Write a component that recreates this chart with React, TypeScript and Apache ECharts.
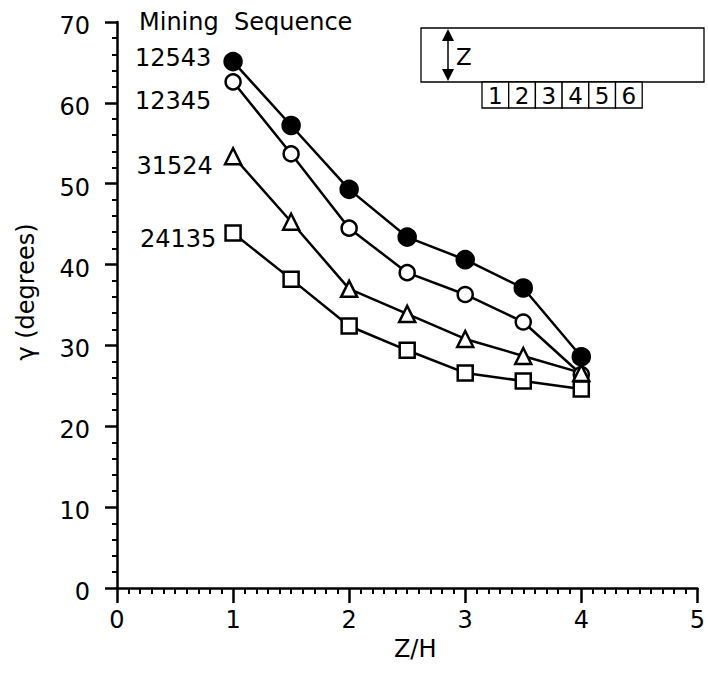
import React, { useEffect, useRef } from "react";
import * as echarts from "echarts";

const zh = [1, 1.5, 2, 2.5, 3, 3.5, 4];
const seq12543 = [65.1, 57.2, 49.3, 43.4, 40.6, 37.1, 28.6];
const seq12345 = [62.6, 53.7, 44.5, 39.0, 36.3, 32.9, 26.4];
const seq31524 = [53.4, 45.3, 37.0, 33.9, 30.8, 28.7, 26.6];
const seq24135 = [43.9, 38.2, 32.4, 29.4, 26.6, 25.6, 24.6];
const insetCells = ["1", "2", "3", "4", "5", "6"];

const FONT = "'DejaVu Sans', 'Liberation Sans', Arial, sans-serif";

export default function App() {
  const ref = useRef<HTMLDivElement>(null);
  useEffect(() => {
    document.body.style.margin = "0";
    const chart = echarts.init(ref.current!, null, { renderer: "svg" });
    const pairs = (ys: number[]) => zh.map((x, i) => [x, ys[i]]);
    const mk = (
      name: string,
      ys: number[],
      symbol: string,
      size: number,
      fill: string,
      off: [number, number],
      dist: number
    ) => ({
      type: "line",
      name,
      data: pairs(ys).map((p, i) =>
        i === 0
          ? {
              value: p,
              label: {
                show: true,
                position: "left",
                distance: dist,
                offset: off,
                formatter: name,
                color: "#000",
                fontSize: 24,
                fontFamily: FONT,
              },
            }
          : p
      ),
      symbol,
      symbolSize: size,
      showSymbol: true,
      lineStyle: { color: "#000", width: 2.5 },
      itemStyle: { color: fill, borderColor: "#000", borderWidth: 2.5 },
      z: 3,
    });

    const cellW = 26.7;
    const cells: any[] = [];
    insetCells.forEach((t, i) => {
      cells.push({
        type: "rect",
        shape: { x: 482 + i * cellW, y: 82, width: cellW, height: 26 },
        style: { fill: "#fff", stroke: "#000", lineWidth: 1.3 },
      });
      cells.push({
        type: "text",
        x: 482 + i * cellW + cellW / 2,
        y: 96,
        style: {
          text: t,
          fontSize: 23,
          fontFamily: FONT,
          fill: "#000",
          align: "center",
          verticalAlign: "middle",
        },
      });
    });

    chart.setOption({
      animation: false,
      grid: { left: 117, right: 4, top: 22, bottom: 85 },
      xAxis: {
        type: "value",
        min: 0,
        max: 5,
        interval: 1,
        name: "Z/H",
        nameLocation: "middle",
        nameGap: 46,
        nameTextStyle: { fontSize: 24, fontFamily: FONT, color: "#000", padding: [0, 0, 0, 16] },
        axisLine: { lineStyle: { color: "#000", width: 2.5 } },
        axisTick: { show: true, length: 15, lineStyle: { color: "#000", width: 2.5 } },
        minorTick: { show: true, splitNumber: 10, length: 6, lineStyle: { color: "#000", width: 2 } },
        axisLabel: { fontSize: 24, fontFamily: FONT, color: "#000", margin: 20 },
        splitLine: { show: false },
        minorSplitLine: { show: false },
      },
      yAxis: {
        type: "value",
        min: 0,
        max: 70,
        interval: 10,
        axisLine: { show: true, lineStyle: { color: "#000", width: 2.5 } },
        axisTick: { show: true, length: 12, lineStyle: { color: "#000", width: 2.5 } },
        minorTick: { show: true, splitNumber: 5, length: 5, lineStyle: { color: "#000", width: 2 } },
        axisLabel: {
          fontSize: 24,
          fontFamily: FONT,
          color: "#000",
          margin: 27,
          formatter: "{v|{value}}",
          rich: {
            v: { fontSize: 24, fontFamily: FONT, color: "#000", padding: [8, 0, 0, 0] },
          },
        },
        splitLine: { show: false },
        minorSplitLine: { show: false },
      },
      series: [
        mk("12345", seq12345, "circle", 15, "#fff", [0, 19], 13),
        mk("24135", seq24135, "rect", 15, "#fff", [0, 6], 8),
        mk("31524", seq31524, "triangle", 16, "#fff", [0, 10], 11),
        mk("12543", seq12543, "circle", 17, "#000", [0, -4], 12),
      ],
      graphic: [
        {
          type: "text",
          x: 26,
          y: 292,
          rotation: Math.PI / 2,
          style: {
            text: "γ (degrees)",
            fontSize: 24,
            fontFamily: FONT,
            fill: "#000",
            align: "center",
            verticalAlign: "middle",
          },
        },
        {
          type: "text",
          x: 139,
          y: 22,
          style: {
            text: "Mining  Sequence",
            fontSize: 24,
            fontFamily: FONT,
            fill: "#000",
            align: "left",
            verticalAlign: "middle",
          },
        },
        {
          type: "rect",
          shape: { x: 421, y: 28, width: 283, height: 54 },
          style: { fill: "#fff", stroke: "#000", lineWidth: 1.3 },
        },
        {
          type: "line",
          shape: { x1: 448, y1: 38, x2: 448, y2: 72 },
          style: { stroke: "#000", lineWidth: 1.5 },
        },
        {
          type: "polygon",
          shape: { points: [[448, 29], [442, 41], [454, 41]] },
          style: { fill: "#000" },
        },
        {
          type: "polygon",
          shape: { points: [[448, 81], [442, 69], [454, 69]] },
          style: { fill: "#000" },
        },
        {
          type: "text",
          x: 456,
          y: 57,
          style: {
            text: "Z",
            fontSize: 23,
            fontFamily: FONT,
            fill: "#000",
            align: "left",
            verticalAlign: "middle",
          },
        },
        ...cells,
      ],
    });
    return () => chart.dispose();
  }, []);
  return (
    <div
      ref={ref}
      style={{ position: "fixed", left: 0, top: 0, width: 708, height: 673, background: "#fff" }}
    />
  );
}
